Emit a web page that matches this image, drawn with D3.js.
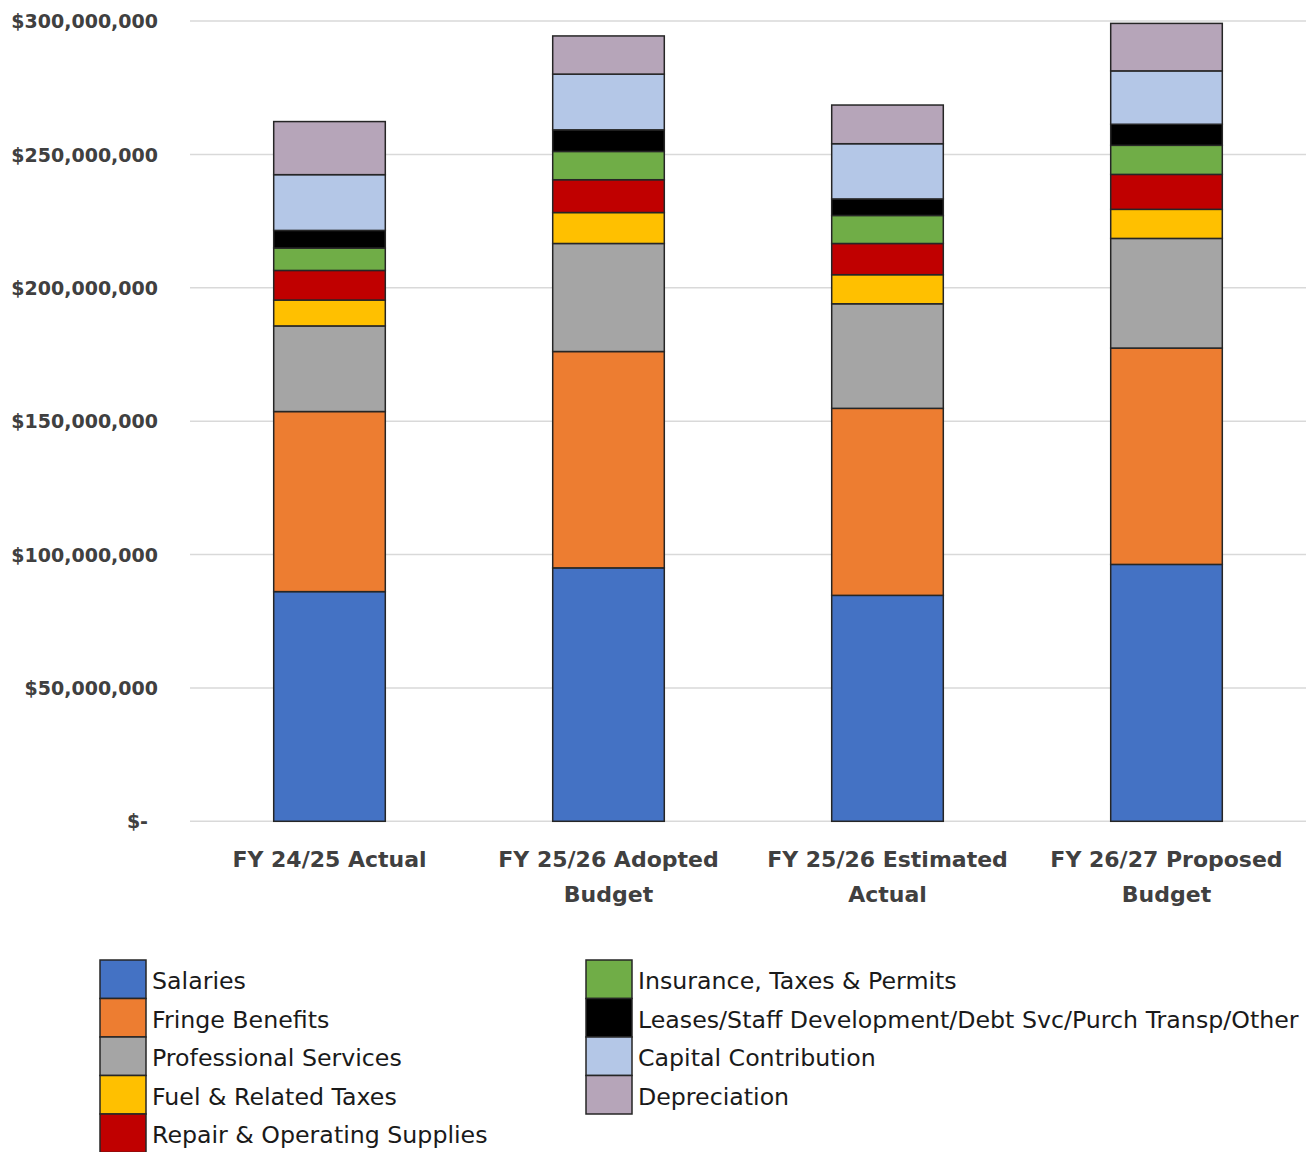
<!DOCTYPE html>
<html>
<head>
<meta charset="utf-8">
<script src="https://cdn.jsdelivr.net/npm/d3@7"></script>
<style>
  html, body { margin: 0; padding: 0; background: #ffffff; }
  svg { display: block; }
</style>
</head>
<body>
<svg id="chart" width="1310" height="1152"></svg>
<script>
// Fiscal-year columns (each label split into its display lines)
const categories = [
  ["FY 24/25 Actual"],
  ["FY 25/26 Adopted", "Budget"],
  ["FY 25/26 Estimated", "Actual"],
  ["FY 26/27 Proposed", "Budget"]
];

// Expense categories, bottom of the stack first
const seriesNames = [
  "Salaries",
  "Fringe Benefits",
  "Professional Services",
  "Fuel & Related Taxes",
  "Repair & Operating Supplies",
  "Insurance, Taxes & Permits",
  "Leases/Staff Development/Debt Svc/Purch Transp/Other",
  "Capital Contribution",
  "Depreciation"
];

const seriesColors = [
  "#4472C4", "#ED7D31", "#A5A5A5", "#FFC000", "#C00000",
  "#70AD47", "#000000", "#B4C7E7", "#B6A5B9"
];

// Amounts in millions of dollars, one value per fiscal-year column
const salaries      = [86.1, 95.0, 84.7, 96.3];
const fringe        = [67.5, 81.1, 70.1, 81.1];
const professional  = [32.1, 40.5, 39.2, 41.1];
const fuel          = [9.7, 11.6, 10.9, 10.9];
const repair        = [11.1, 12.3, 11.7, 13.1];
const insurance     = [8.4, 10.6, 10.5, 10.9];
const leasesOther   = [6.6, 8.1, 6.2, 7.9];
const capital       = [20.9, 20.9, 20.7, 20.0];
const depreciation  = [19.9, 14.3, 14.5, 17.8];

// Axis ticks in dollars
const yTicks = [0, 50e6, 100e6, 150e6, 200e6, 250e6, 300e6];

const seriesValues = [salaries, fringe, professional, fuel, repair,
                      insurance, leasesOther, capital, depreciation];

// Build one row per column for d3.stack
const rows = categories.map((lines, i) => {
  const r = { key: lines.join(" ") };
  seriesNames.forEach((name, s) => { r[name] = seriesValues[s][i] * 1e6; });
  return r;
});

const stacked = d3.stack().keys(seriesNames)(rows);

const svg = d3.select("#chart");

const x = d3.scaleBand()
  .domain(rows.map(r => r.key))
  .range([190, 1306])
  .paddingInner(0.6)
  .paddingOuter(0.3);

const y = d3.scaleLinear()
  .domain([0, 300e6])
  .range([821.3, 21]);

const color = d3.scaleOrdinal().domain(seriesNames).range(seriesColors);

// Horizontal gridlines
svg.append("g")
  .selectAll("line")
  .data(yTicks)
  .join("line")
  .attr("x1", x.range()[0])
  .attr("x2", x.range()[1])
  .attr("y1", d => y(d))
  .attr("y2", d => y(d))
  .attr("stroke", "#d9d9d9")
  .attr("stroke-width", 1.5);

// Y axis labels (accounting style: zero shown as "$-")
const fmt = d3.format("$,");
const yAxis = d3.axisLeft(y)
  .tickValues(yTicks)
  .tickSize(0)
  .tickPadding(0)
  .tickFormat(d => d === 0 ? "$-" : fmt(d));

const yg = svg.append("g")
  .attr("transform", "translate(158,0)")
  .call(yAxis);
yg.select(".domain").remove();
yg.selectAll("text")
  .attr("font-family", "'DejaVu Sans', sans-serif")
  .attr("font-weight", "bold")
  .attr("font-size", 19)
  .attr("fill", "#404040")
  .attr("dy", "0.35em")
  .attr("x", d => d === 0 ? -10 : 0);

// Stacked bars
svg.append("g")
  .selectAll("g")
  .data(stacked)
  .join("g")
  .attr("fill", d => color(d.key))
  .selectAll("rect")
  .data(d => d)
  .join("rect")
  .attr("x", d => x(d.data.key))
  .attr("width", x.bandwidth())
  .attr("y", d => y(d[1]))
  .attr("height", d => y(d[0]) - y(d[1]))
  .attr("stroke", "#262626")
  .attr("stroke-width", 1.5);

// Category labels under the bars
const xg = svg.append("g")
  .selectAll("text")
  .data(categories)
  .join("text")
  .attr("x", (d, i) => x(rows[i].key) + x.bandwidth() / 2)
  .attr("y", 867)
  .attr("text-anchor", "middle")
  .attr("font-family", "'DejaVu Sans', sans-serif")
  .attr("font-weight", "bold")
  .attr("font-size", 22)
  .attr("fill", "#404040");
xg.selectAll("tspan")
  .data(d => d)
  .join("tspan")
  .attr("x", function () { return d3.select(this.parentNode).attr("x"); })
  .attr("dy", (d, j) => j === 0 ? 0 : 35)
  .text(d => d);

// Legend in two columns
const legendCols = [
  { x: 100, items: seriesNames.slice(0, 5) },
  { x: 586, items: seriesNames.slice(5) }
];
const rowH = 38.5;
const legendTop = 960;

legendCols.forEach(col => {
  const g = svg.append("g");
  const item = g.selectAll("g")
    .data(col.items)
    .join("g")
    .attr("transform", (d, i) => `translate(${col.x},${legendTop + i * rowH})`);
  item.append("rect")
    .attr("width", 46)
    .attr("height", rowH)
    .attr("fill", d => color(d))
    .attr("stroke", "#262626")
    .attr("stroke-width", 1.5);
  item.append("text")
    .attr("x", 52)
    .attr("y", rowH / 2 + 10)
    .attr("font-family", "'DejaVu Sans', sans-serif")
    .attr("font-size", 23.7)
    .attr("fill", "#1a1a1a")
    .text(d => d);
});
</script>
</body>
</html>
